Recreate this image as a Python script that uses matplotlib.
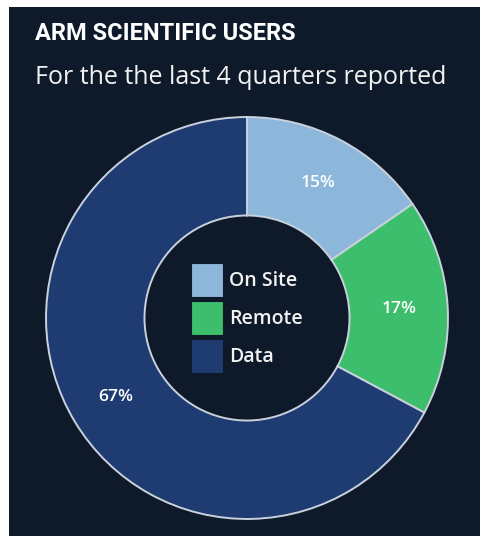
import matplotlib
matplotlib.use("Agg")
import matplotlib.pyplot as plt
from matplotlib.patches import Rectangle

# data
categories = ["On Site", "Remote", "Data"]
shares = [15.4, 17.4, 67.2]
pct_labels = ["15%", "17%", "67%"]

BG = "#0e1a29"
COLORS = ["#8cb6da", "#3dbe6c", "#1f3c72"]
EDGE = "#c9d1dc"

W, H = 481, 536
fig = plt.figure(figsize=(W / 100, H / 100), dpi=100, facecolor="white")

# dark panel (thin white margin at top/left like the screenshot)
fig.patches.append(Rectangle((9 / W, 0), 1, 1 - 7 / H, transform=fig.transFigure,
                             facecolor=BG, edgecolor="none", zorder=-10))

fig.text(35 / W, 1 - 33 / H, "ARM SCIENTIFIC USERS", family="Roboto",
         fontweight="bold", fontsize=17, color="white", va="center", ha="left")
fig.text(35 / W, 1 - 77 / H, "For the the last 4 quarters reported", family="Open Sans",
         fontsize=18, color="#f2f2f2", va="center", ha="left")

# donut: centre (247, 318) px, outer radius ~201 px
cx, cy, r = 247, 318, 203
ax = fig.add_axes([(cx - r) / W, 1 - (cy + r) / H, 2 * r / W, 2 * r / H])
ax.set_zorder(5)
ax.set_facecolor("none")
wedges, _, autotexts = ax.pie(
    shares, colors=COLORS, startangle=90, counterclock=False, radius=0.99,
    autopct="%1.0f%%", pctdistance=0.76,
    wedgeprops=dict(width=0.485, edgecolor=EDGE, linewidth=1.4),
    textprops=dict(color="white", fontsize=12.5, family="Open Sans",
                   fontweight="semibold"))
for t, lab in zip(autotexts, pct_labels):
    t.set_text(lab)
ax.set_xlim(-1, 1)
ax.set_ylim(-1, 1)
ax.set_aspect("equal")
ax.axis("off")

leg = ax.legend(wedges, categories, loc="center", frameon=False,
                handlelength=1.65, handleheight=2.3, labelspacing=0.2,
                handletextpad=0.3, borderaxespad=0,
                prop=dict(family="Open Sans", size=14, weight="semibold"))
for t in leg.get_texts():
    t.set_color("#f2f2f2")
for h in leg.legend_handles:
    h.set_edgecolor(BG)
    h.set_linewidth(0.8)

fig.savefig("out.png", dpi=100, facecolor=fig.get_facecolor())
